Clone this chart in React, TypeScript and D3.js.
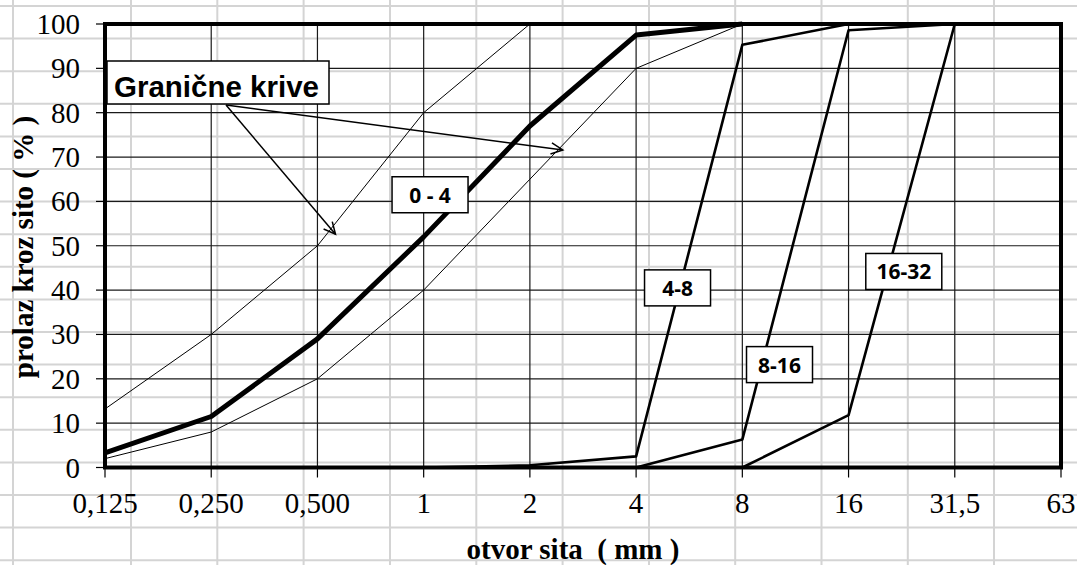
import * as d3 from 'd3';

// sieve openings (mm) – equally spaced on the chart
const sieves = ['0,125', '0,250', '0,500', '1', '2', '4', '8', '16', '31,5', '63'];
const yTicks = [0, 10, 20, 30, 40, 50, 60, 70, 80, 90, 100];

// limit curves (start at sieve index 0)
const upperLimit = [13.2, 30, 50, 80, 100];
const lowerLimit = [2, 8, 20, 40, 65, 90, 100];

// fractions: [start index, values...]
const frac04 = [3.3, 11.5, 29, 52, 77, 97.5, 100];
const frac48 = [0, 0, 0, 0, 0.5, 2.5, 95.3, 100];
const frac816Start = 5;
const frac816 = [0, 6.3, 98.6, 100];
const frac1632Start = 6;
const frac1632 = [0, 11.8, 100];

// labels placed in data space (sieve index, percent)
const fracLabels = [
  { text: '0 - 4', i: 3.06, v: 61.5 },
  { text: '4-8', i: 5.39, v: 40.5 },
  { text: '8-16', i: 6.35, v: 23.2 },
  { text: '16-32', i: 7.52, v: 44.2 },
];

const W = 1077;
const H = 565;

// spreadsheet cell grid behind the chart
const sheetCols = [13, 131, 217.3, 303.6, 390, 476.3, 562.6, 649, 735.2, 821.5, 907.8, 994];
const sheetRowTop = 6;
const sheetRowH = 32.6;

export default function App() {
  const x = d3.scaleLinear().domain([0, sieves.length - 1]).range([105, 1061]);
  const y = d3.scaleLinear().domain([0, 100]).range([467.5, 24]);

  const line = d3
    .line<[number, number]>()
    .x((d) => x(d[0]))
    .y((d) => y(d[1]));

  const pts = (vals: number[], start = 0) => vals.map((v, k) => [start + k, v] as [number, number]);

  const rows = d3.range(0, 18).map((k) => sheetRowTop + k * sheetRowH);

  const serif = '"Liberation Serif", "Times New Roman", serif';
  const labelFont = '"Open Sans", "Noto Sans", sans-serif';

  // arrows from "Granične krive" box
  const arrowFrom: [number, number] = [226, 105];
  const arrowTargets = [
    { i: 2.17, v: 52.6 },
    { i: 4.31, v: 71.6 },
  ];

  const arrowHead = (fx: number, fy: number, tx: number, ty: number) => {
    const ang = Math.atan2(ty - fy, tx - fx);
    const len = 13;
    const spread = 0.45;
    const a1 = ang + Math.PI - spread;
    const a2 = ang + Math.PI + spread;
    return `M${tx + len * Math.cos(a1)},${ty + len * Math.sin(a1)}L${tx},${ty}L${tx + len * Math.cos(a2)},${ty + len * Math.sin(a2)}`;
  };

  return (
    <svg
      width={W}
      height={H}
      style={{ position: 'absolute', left: 0, top: 0, background: '#fff' }}
    >
      {/* sheet grid */}
      <g stroke="#d4d4d4" strokeWidth={2}>
        {sheetCols.map((c) => (
          <line key={'c' + c} x1={c} x2={c} y1={0} y2={H} />
        ))}
        {rows.map((r) => (
          <line key={'r' + r} x1={0} x2={W} y1={r} y2={r} />
        ))}
      </g>

      {/* plot grid */}
      <g stroke="#1a1a1a" strokeWidth={1.2}>
        {yTicks.map((t) => (
          <line key={'gy' + t} x1={x(0)} x2={x(sieves.length - 1)} y1={y(t)} y2={y(t)} />
        ))}
        {sieves.map((s, i) => (
          <line key={'gx' + s} x1={x(i)} x2={x(i)} y1={y(0)} y2={y(100)} />
        ))}
      </g>

      {/* ticks */}
      <g stroke="#000" strokeWidth={1.2}>
        {yTicks.map((t) => (
          <line key={'ty' + t} x1={x(0) - 9} x2={x(0)} y1={y(t)} y2={y(t)} />
        ))}
        {sieves.map((s, i) => (
          <line key={'tx' + s} x1={x(i)} x2={x(i)} y1={y(0)} y2={y(0) + 10} />
        ))}
      </g>

      {/* limit curves */}
      <g fill="none" stroke="#000" strokeWidth={1}>
        <path d={line(pts(upperLimit)) || ''} />
        <path d={line(pts(lowerLimit)) || ''} />
      </g>

      {/* fractions */}
      <g fill="none" stroke="#000" strokeLinejoin="round">
        <path d={line(pts(frac48)) || ''} strokeWidth={2.6} />
        <path d={line(pts(frac816, frac816Start)) || ''} strokeWidth={2.6} />
        <path d={line(pts(frac1632, frac1632Start)) || ''} strokeWidth={2.6} />
        <path d={line(pts(frac04)) || ''} strokeWidth={5} />
      </g>

      {/* frame */}
      <rect
        x={x(0)}
        y={y(100)}
        width={x(sieves.length - 1) - x(0)}
        height={y(0) - y(100)}
        fill="none"
        stroke="#000"
        strokeWidth={4}
      />

      {/* tick labels */}
      <g fontFamily={serif} fontSize={29} fill="#000">
        {yTicks.map((t) => (
          <text key={'ly' + t} x={80} y={y(t) + 10} textAnchor="end">
            {t}
          </text>
        ))}
        {sieves.map((s, i) => (
          <text key={'lx' + s} x={x(i)} y={513} textAnchor="middle">
            {s}
          </text>
        ))}
      </g>

      {/* axis titles */}
      <text
        x={573}
        y={559}
        textAnchor="middle"
        fontFamily={serif}
        fontSize={29}
        fontWeight="bold"
        style={{ whiteSpace: 'pre' }}
      >
        {'otvor sita  ( mm )'}
      </text>
      <text
        transform="translate(33,247) rotate(-90)"
        textAnchor="middle"
        fontFamily={serif}
        fontSize={29}
        fontWeight="bold"
        style={{ whiteSpace: 'pre' }}
      >
        {'prolaz kroz sito ( % )'}
      </text>

      {/* arrows */}
      <g stroke="#000" strokeWidth={1.5} fill="none">
        {arrowTargets.map((a, k) => {
          const tx = x(a.i);
          const ty = y(a.v);
          return (
            <g key={'ar' + k}>
              <line x1={arrowFrom[0]} y1={arrowFrom[1]} x2={tx} y2={ty} />
              <path d={arrowHead(arrowFrom[0], arrowFrom[1], tx, ty)} />
            </g>
          );
        })}
      </g>

      {/* Granične krive box */}
      <rect x={107} y={61} width={222} height={43} fill="#fff" stroke="#000" strokeWidth={1.5} />
      <text
        x={114}
        y={97}
        fontFamily='"Liberation Sans", Arial, sans-serif'
        fontWeight="bold"
        fontSize={29.5}
      >
        Granične krive
      </text>

      {/* fraction labels */}
      {fracLabels.map((l) => {
        const cx = x(l.i);
        const cy = y(l.v);
        const w = l.text.length > 4 ? 76 : 66;
        return (
          <g key={l.text}>
            <rect x={cx - w / 2} y={cy - 18} width={w} height={36} fill="#fff" stroke="#000" strokeWidth={1.5} />
            <text
              x={cx}
              y={cy + 8}
              textAnchor="middle"
              fontFamily={labelFont}
              fontWeight="bold"
              fontSize={21}
            >
              {l.text}
            </text>
          </g>
        );
      })}
    </svg>
  );
}
